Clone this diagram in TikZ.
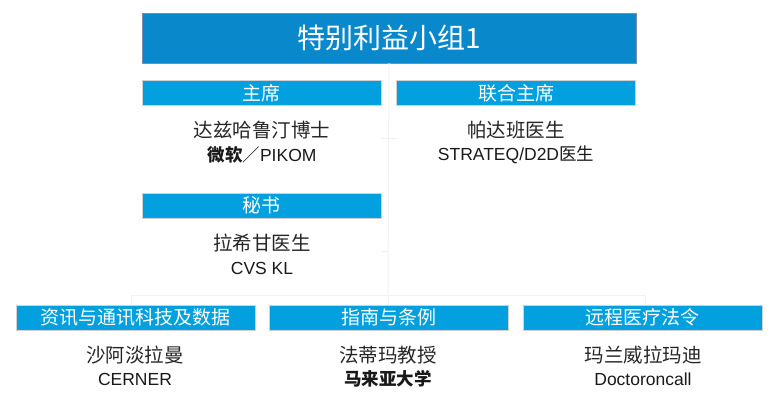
\documentclass[tikz,border=0pt]{standalone}
\usepackage{fontspec}
\setmainfont{Noto Sans CJK SC}
\newfontfamily\lat{Liberation Sans}
\usepackage{xcolor}
\usetikzlibrary{positioning,calc}

\definecolor{topblue}{HTML}{0A88CC}
\definecolor{roleblue}{HTML}{02A0DE}
\definecolor{topedge}{HTML}{7D8CAE}
\definecolor{linkgray}{HTML}{F1F1F1}

\begin{document}
\begin{tikzpicture}[
  x=1pt,y=-1pt,
  hdr/.style={rectangle,draw=topedge,fill=topblue,text=white,minimum width=494pt,minimum height=50pt,inner sep=0pt,font=\fontsize{28}{30}\selectfont},
  role/.style={rectangle,draw=black!18,fill=roleblue,text=white,minimum width=239pt,minimum height=25pt,inner sep=0pt,font=\fontsize{19}{20}\selectfont},
  nm/.style={inner sep=0pt,text=black!85,font=\fontsize{19.5}{21}\selectfont},
  org/.style={inner sep=0pt,text=black!90,font=\fontsize{17.5}{18}\selectfont},
  link/.style={draw=linkgray,line width=1pt}
]
\useasboundingbox (0,0) rectangle (774,400);
% header
\node[hdr] (sig) at (389,38) {特别利益小组1};
% connectors (very faint)
\coordinate (hub) at (388,295);
\coordinate (jl) at (131,295);
\coordinate (jr) at (645,295);
\coordinate (tka) at (381,138); \coordinate (tkb) at (397,138);
\coordinate (tkc) at (381,251); \coordinate (tkd) at (388,251);
\draw[link] (sig.south) -- (hub);
\draw[link] (jl) -- (jr);
\draw[link] (tka) -- (tkb); \draw[link] (tkc) -- (tkd);
% roles
\node[role] (chair) at (261.5,93) {主席};
\node[role] (cochair) at (516,93) {联合主席};
\node[role] (sec) at (261.5,205.5) {秘书};
\node[role] (ict) at (135.5,317.5) {资讯与通讯科技及数据};
\node[role] (guide) at (388.5,317.5) {指南与条例};
\node[role] (tele) at (642.5,317.5) {远程医疗法令};
\draw[link] (jl) -- (jl |- ict.north);
\draw[link] (hub) -- (hub |- guide.north);
\draw[link] (jr) -- (jr |- tele.north);
% people
\node[nm] (chairnm) at (262,130) {达兹哈鲁汀博士};
\node[org] (chairorg) at (262,155) {{\bfseries 微软}／{\lat PIKOM}};
\node[nm] (cochairnm) at (516,130) {帕达班医生};
\node[org] (cochairorg) at (516,155) {{\lat STRATEQ/D2D}医生};
\node[nm] (secnm) at (262,243) {拉希甘医生};
\node[org] (secorg) at (262,268) {\lat CVS KL};
\node[nm] (ictnm) at (135,355) {沙阿淡拉曼};
\node[org] (ictorg) at (135,379) {\lat CERNER};
\node[nm] (guidenm) at (388,355) {法蒂玛教授};
\node[org] (guideorg) at (388,379) {\bfseries 马来亚大学};
\node[nm] (telenm) at (643,355) {玛兰威拉玛迪};
\node[org] (teleorg) at (643,379) {\lat Doctoroncall};
\end{tikzpicture}
\end{document}
